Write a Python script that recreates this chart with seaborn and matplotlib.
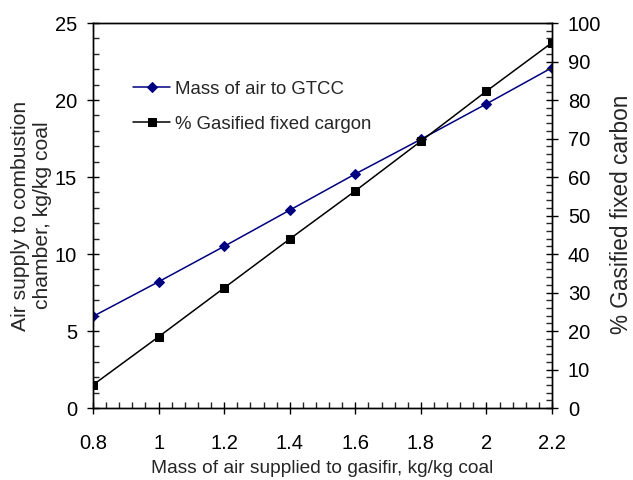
import numpy as np
import pandas as pd
import matplotlib
matplotlib.use("Agg")
import matplotlib.pyplot as plt
import seaborn as sns
from matplotlib.ticker import MultipleLocator

# data
air_gasifier = [0.8, 1.0, 1.2, 1.4, 1.6, 1.8, 2.0, 2.2]
air_gtcc = [5.95, 8.2, 10.5, 12.85, 15.2, 17.45, 19.75, 22.1]
gasified_carbon = [6.0, 18.5, 31.2, 43.9, 56.4, 69.3, 82.3, 94.9]
xtick_labels = ['0.8', '1', '1.2', '1.4', '1.6', '1.8', '2', '2.2']

sns.set_style("ticks")
plt.rcParams['font.family'] = ['Liberation Sans', 'DejaVu Sans']

df = pd.DataFrame({'x': air_gasifier, 'gtcc': air_gtcc, 'carbon': gasified_carbon})

fig = plt.figure(figsize=(6.33, 4.8), dpi=100)
ax = fig.add_axes([0.147, 0.15, 0.725, 0.802])
ax2 = ax.twinx()

sns.lineplot(data=df, x='x', y='gtcc', ax=ax, color='#000080', marker='D',
             markersize=5.5, markeredgecolor='#000080', lw=1.1,
             label='Mass of air to GTCC', legend=False)
sns.lineplot(data=df, x='x', y='carbon', ax=ax2, color='black', marker='s',
             markersize=6, markeredgecolor='black', lw=1.1,
             label='% Gasified fixed cargon', legend=False)

ax.set_xlim(0.8, 2.2)
ax.set_ylim(0, 25)
ax2.set_ylim(0, 100)
ax.xaxis.set_minor_locator(MultipleLocator(0.04))
ax.yaxis.set_major_locator(MultipleLocator(5))
ax.yaxis.set_minor_locator(MultipleLocator(1))
ax2.yaxis.set_major_locator(MultipleLocator(10))
ax2.yaxis.set_minor_locator(MultipleLocator(2))
ax.set_xticks(air_gasifier)
ax.set_xticklabels(xtick_labels)

for a in (ax, ax2):
    for s in a.spines.values():
        s.set_visible(True)
        s.set_linewidth(1.0)
        s.set_color('black')
    a.tick_params(which='major', direction='inout', length=9, width=1, labelsize=14.5, colors='black')
    a.tick_params(which='minor', direction='in', length=4.5, width=1)
ax.tick_params(axis='x', which='major', pad=14)
ax.tick_params(axis='y', which='major', pad=7)
ax2.tick_params(axis='y', which='major', pad=7)

ax.set_xlabel('Mass of air supplied to gasifir, kg/kg coal', fontsize=13.8, labelpad=5)
ax.set_ylabel('Air supply to combustion\nchamber, kg/kg coal', fontsize=15.2,
              linespacing=1.15)
ax.yaxis.set_label_coords(-0.134, 0.5)
ax2.set_ylabel('% Gasified fixed carbon', fontsize=16.3)
ax2.yaxis.set_label_coords(1.152, 0.502)
for lab in (ax.yaxis.label, ax2.yaxis.label):
    lab.set_ha('center')
    lab.set_va('center')

h1, l1 = ax.get_legend_handles_labels()
h2, l2 = ax2.get_legend_handles_labels()
ax.legend(h1 + h2, l1 + l2, loc='upper left', bbox_to_anchor=(0.051, 0.893),
          frameon=False, fontsize=13.4, handlelength=2.0, handletextpad=0.25, labelspacing=0.95)

fig.savefig('out.png', dpi=100)
